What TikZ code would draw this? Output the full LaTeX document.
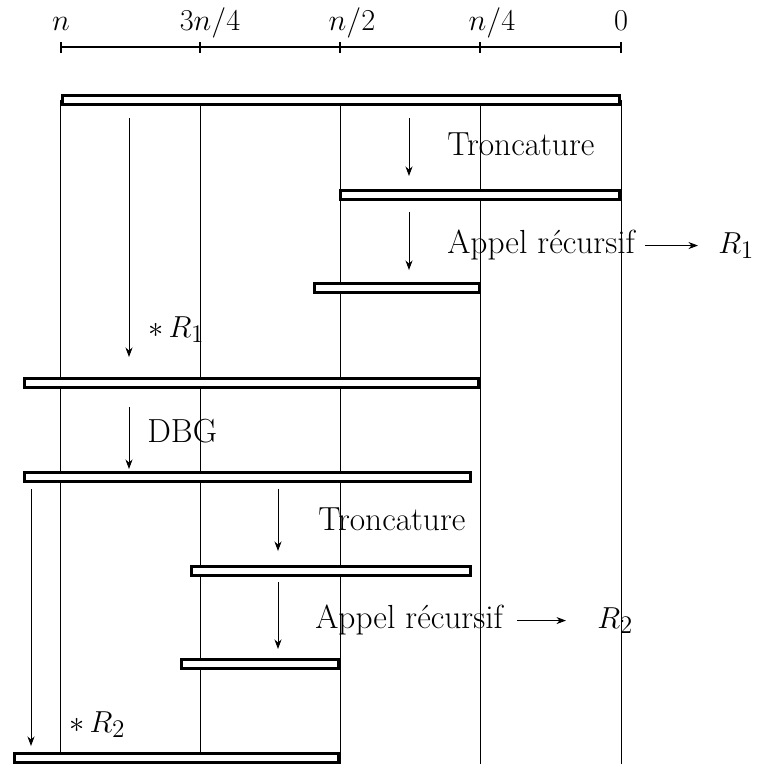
\documentclass[tikz,border=0pt]{standalone}
\usepackage{amsmath,amssymb}
\usetikzlibrary{positioning,arrows.meta}

\begin{document}
\begin{tikzpicture}[
  x=0.2mm, y=-0.2mm,
  every node/.style={font=\fontsize{19}{22}\selectfont},
  lbl/.style={inner sep=0pt},
  bar/.style={draw=black, fill=white, line width=0.6mm, inner sep=0pt, minimum height=1.8mm},
  grid/.style={draw=black, line width=0.35pt},
  axis/.style={draw=black, line width=0.6pt},
  flow/.style={draw=black, line width=0.5pt, -{Stealth[length=1.9mm,width=1.4mm,inset=0.6mm]}}
]
\useasboundingbox (0,0) rectangle (763,764);

% axe des tailles
\draw[axis] (61,47) -- (621,47);
\foreach \x/\lx/\t in {61/61/n, 200/210/{3n/4}, 340/352/{n/2}, 480/492/{n/4}, 621/621/0} {
  \draw[axis] (\x,42) -- (\x,53);
  \node[lbl, anchor=base] at (\lx,30) {$\t$};
}

% reperes verticaux
\foreach \x in {60,200,340,480,621}
  \draw[grid] (\x,100) -- (\x,764);

% les polynomes
\node[bar, minimum width=111.4mm] (b1) at (341,100) {};
\node[bar, minimum width=55.8mm] (b2) at (480,194.5) {};
\node[bar, minimum width=33mm] (b3) at (397,288) {};
\node[bar, minimum width=90.8mm] (b4) at (251.5,383) {};
\node[bar, minimum width=89.2mm] (b5) at (247.5,477) {};
\node[bar, minimum width=55.8mm] (b6) at (331,570.5) {};
\node[bar, minimum width=31.4mm] (b7) at (260,663.5) {};
\node[bar, minimum width=64.8mm] (b8) at (176.5,757.5) {};

% debuts et fins des fleches
\coordinate (s1) at (129,118);  \coordinate (e1) at (129,357);
\coordinate (s2) at (409,118);  \coordinate (e2) at (409,176);
\coordinate (s3) at (409,212);  \coordinate (e3) at (409,270);
\coordinate (s4) at (129,407);  \coordinate (e4) at (129,469);
\coordinate (s5) at (278,489);  \coordinate (e5) at (278,551);
\coordinate (s6) at (278,582);  \coordinate (e6) at (278,649);
\coordinate (s7) at (31,489);   \coordinate (e7) at (31,746);

\draw[flow] (s1) -- (e1);
\draw[flow] (s2) -- (e2);
\draw[flow] (s3) -- (e3);
\draw[flow] (s4) -- (e4);
\draw[flow] (s5) -- (e5);
\draw[flow] (s6) -- (e6);
\draw[flow] (s7) -- (e7);

% etiquettes
\node[lbl, anchor=base west] (tr1) at (447,155) {Troncature};
\node[lbl, anchor=base west] (ap1) at (447,253) {Appel récursif};
\node[lbl, anchor=base west] (r1) at (718,253) {$R_1$};
\node[lbl, anchor=base west] (st1) at (148,337) {$*\,R_1$};
\node[lbl, anchor=base west] (dbg) at (147,442) {DBG};
\node[lbl, anchor=base west] (tr2) at (318,530) {Troncature};
\node[lbl, anchor=base west] (ap2) at (315,628) {Appel récursif};
\node[lbl, anchor=base west] (r2) at (597,628) {$R_2$};
\node[lbl, anchor=base west] (st2) at (69,732) {$*\,R_2$};

\draw[flow] ([xshift=2mm]ap1.east |- r1.west) -- ([xshift=-4mm]r1.west);
\draw[flow] ([xshift=2.8mm]ap2.east |- r2.west) -- ([xshift=-6.2mm]r2.west);

\end{tikzpicture}
\end{document}
